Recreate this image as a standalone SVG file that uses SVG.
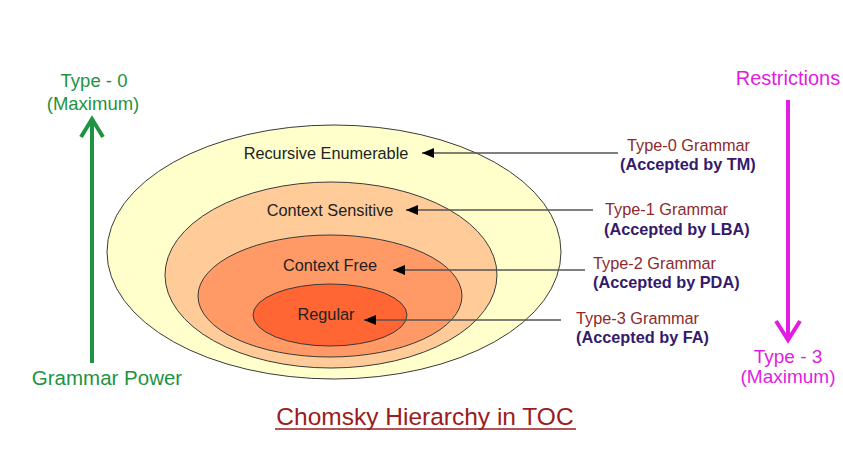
<svg xmlns="http://www.w3.org/2000/svg" width="843" height="462" viewBox="0 0 843 462">
<style>
text{font-family:"Liberation Sans",Arial,sans-serif}
.lbl{font-size:16.3px;fill:#222;text-anchor:middle}
.gt{font-size:16.3px;fill:#8e2a2a}
.acc{font-size:16.3px;fill:#341a6b;font-weight:bold}
.ell{stroke:#3a3a3a;stroke-width:1}
.conn{stroke:#555;stroke-width:1.4;fill:none}
.green{fill:#1f9341;font-size:18.5px;text-anchor:middle}
.mag{fill:#e01de0;font-size:19px;text-anchor:middle}
</style>
<defs>
<marker id="ah" markerWidth="12" markerHeight="10" refX="12" refY="5" orient="auto" markerUnits="userSpaceOnUse">
<path d="M12,5 L0,0 L0,10 Z" fill="#000"/>
</marker>
</defs>
<rect width="843" height="462" fill="#fff"/>
<g id="outer"><ellipse class="ell" cx="334" cy="252" rx="227" ry="127" fill="#ffffcc"/></g>
<g id="cs"><ellipse class="ell" cx="331" cy="275" rx="166" ry="93" fill="#ffcc99"/></g>
<g id="cf"><ellipse class="ell" cx="330" cy="296" rx="132" ry="61" fill="#ff9966"/></g>
<g id="reg"><ellipse class="ell" cx="330" cy="315" rx="77" ry="31" fill="#ff6633"/></g>
<g id="labels">
<text class="lbl" x="326" y="159">Recursive Enumerable</text>
<text class="lbl" x="330" y="216">Context Sensitive</text>
<text class="lbl" x="330" y="271">Context Free</text>
<text class="lbl" x="326" y="320">Regular</text>
</g>
<g id="connectors">
<line class="conn" x1="618" y1="153" x2="422" y2="153" marker-end="url(#ah)"/>
<line class="conn" x1="593" y1="210" x2="406" y2="210" marker-end="url(#ah)"/>
<line class="conn" x1="585" y1="270" x2="393" y2="270" marker-end="url(#ah)"/>
<line class="conn" x1="561" y1="320" x2="364" y2="320" marker-end="url(#ah)"/>
</g>
<g id="t0"><text class="gt" x="627" y="151">Type-0 Grammar</text><text class="acc" x="620" y="170">(Accepted by TM)</text></g>
<g id="t1"><text class="gt" x="605" y="215">Type-1 Grammar</text><text class="acc" x="604" y="235">(Accepted by LBA)</text></g>
<g id="t2"><text class="gt" x="593" y="269">Type-2 Grammar</text><text class="acc" x="593" y="288">(Accepted by PDA)</text></g>
<g id="t3"><text class="gt" x="576" y="324">Type-3 Grammar</text><text class="acc" x="576" y="343">(Accepted by FA)</text></g>
<g id="power">
<text class="green" x="94" y="87">Type - 0</text>
<text class="green" x="93" y="110">(Maximum)</text>
<line x1="92" y1="119" x2="92" y2="363" stroke="#1f9341" stroke-width="4"/>
<polyline points="81,137 92,119 103,137" fill="none" stroke="#1f9341" stroke-width="4"/>
<text class="green" x="107" y="385" style="font-size:20.5px">Grammar Power</text>
</g>
<g id="restr">
<text class="mag" x="788" y="85" style="font-size:20px">Restrictions</text>
<line x1="788" y1="100" x2="788" y2="340" stroke="#e01de0" stroke-width="4"/>
<polyline points="776,321 788,340 800,321" fill="none" stroke="#e01de0" stroke-width="4"/>
<text class="mag" x="788" y="363">Type - 3</text>
<text class="mag" x="788" y="383">(Maximum)</text>
</g>
<g id="title">
<text x="425" y="425" text-anchor="middle" style="font-size:24.5px;fill:#9b1c1c">Chomsky Hierarchy in TOC</text>
<line x1="275" y1="429" x2="576" y2="429" stroke="#9b1c1c" stroke-width="1.5"/>
</g>
</svg>
